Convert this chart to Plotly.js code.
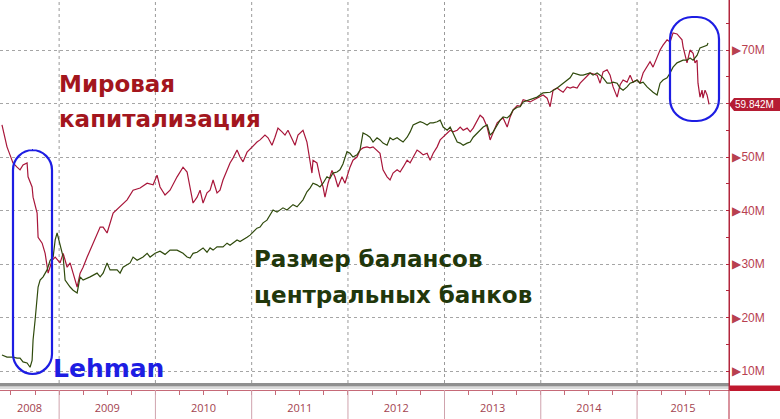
<!DOCTYPE html>
<html>
<head>
<meta charset="utf-8">
<script src="https://cdn.plot.ly/plotly-3.0.1.min.js"></script>
<style>html,body{margin:0;padding:0;background:#fff;}#chart{width:780px;height:419px;}</style>
</head>
<body>
<div id="chart"></div>
<script>
// ---- data (decimal years, values in M) ----
const redYears = [2008.408,2008.460,2008.491,2008.522,2008.564,2008.595,2008.626,2008.668,2008.678,2008.720,2008.730,2008.772,2008.782,2008.824,2008.855,2008.875,2008.886,2008.927,2008.959,2009.010,2009.042,2009.083,2009.114,2009.145,2009.187,2009.218,2009.249,2009.291,2009.322,2009.394,2009.426,2009.457,2009.498,2009.561,2009.633,2009.706,2009.768,2009.841,2009.914,2009.976,2010.017,2010.048,2010.100,2010.152,2010.225,2010.287,2010.329,2010.360,2010.391,2010.433,2010.464,2010.495,2010.536,2010.568,2010.599,2010.640,2010.671,2010.702,2010.744,2010.775,2010.806,2010.848,2010.879,2010.910,2010.952,2011.004,2011.055,2011.087,2011.138,2011.170,2011.211,2011.242,2011.273,2011.315,2011.346,2011.377,2011.419,2011.450,2011.481,2011.533,2011.574,2011.606,2011.626,2011.637,2011.678,2011.709,2011.741,2011.761,2011.793,2011.834,2011.865,2011.896,2011.938,2011.969,2011.990,2012.021,2012.052,2012.094,2012.125,2012.156,2012.197,2012.228,2012.260,2012.301,2012.332,2012.363,2012.405,2012.436,2012.467,2012.509,2012.540,2012.571,2012.613,2012.644,2012.675,2012.716,2012.748,2012.779,2012.820,2012.851,2012.883,2012.924,2012.955,2012.986,2013.028,2013.059,2013.090,2013.132,2013.163,2013.194,2013.235,2013.267,2013.298,2013.339,2013.370,2013.402,2013.443,2013.474,2013.505,2013.547,2013.578,2013.609,2013.651,2013.682,2013.713,2013.755,2013.786,2013.817,2013.889,2013.962,2014.024,2014.066,2014.097,2014.128,2014.170,2014.201,2014.232,2014.274,2014.305,2014.336,2014.377,2014.409,2014.440,2014.481,2014.512,2014.585,2014.616,2014.647,2014.689,2014.720,2014.751,2014.793,2014.824,2014.855,2014.896,2014.928,2014.959,2015.000,2015.031,2015.063,2015.104,2015.135,2015.166,2015.208,2015.239,2015.270,2015.312,2015.343,2015.374,2015.415,2015.447,2015.467,2015.478,2015.499,2015.519,2015.550,2015.582,2015.602,2015.623,2015.633,2015.654,2015.675,2015.685,2015.706,2015.727,2015.748];
const redValues = [56.0,51.9,50.4,48.9,48.1,47.6,48.5,48.9,46.3,44.4,42.5,39.5,35.0,33.9,32.0,29.4,28.3,30.7,31.3,30.2,32.0,29.4,30.2,28.3,25.7,28.3,29.4,31.3,32.6,35.8,36.9,36.9,35.8,39.5,40.7,42.0,43.8,44.2,45.1,44.8,46.6,44.4,42.9,43.8,46.3,48.1,47.2,44.4,41.4,42.5,43.8,41.4,43.3,43.8,45.7,43.3,43.8,45.7,47.6,48.9,49.8,51.3,50.0,49.1,50.9,51.9,52.8,53.2,54.1,53.6,52.2,53.7,55.4,54.7,54.1,55.0,53.2,52.2,54.1,55.0,52.8,48.9,47.0,49.4,48.9,46.3,44.4,42.5,45.1,47.5,46.3,44.4,46.3,45.1,46.3,48.1,49.4,50.0,51.3,51.7,51.9,51.7,51.9,51.3,50.7,47.6,46.3,45.7,47.0,47.6,47.2,48.1,49.4,48.9,50.0,51.3,50.9,50.4,50.7,49.4,50.7,51.9,53.2,53.7,54.5,55.0,54.7,55.0,55.6,55.0,55.4,54.7,55.4,56.9,57.8,57.3,55.6,53.2,54.5,56.4,56.9,57.3,55.6,57.5,58.8,59.6,59.5,60.7,60.3,61.0,61.6,61.0,59.4,62.5,62.9,62.5,62.1,63.1,62.9,63.1,62.9,63.8,64.4,65.0,65.7,65.3,63.8,65.9,66.3,65.3,63.1,61.2,63.5,64.4,64.0,65.3,64.0,64.4,63.8,65.7,66.8,67.8,66.8,68.7,70.0,70.9,71.9,71.5,73.2,73.0,72.4,71.9,70.6,68.7,67.6,70.0,69.4,67.6,68.1,63.8,61.2,62.5,61.0,62.5,61.6,59.842];

const greenYears = [2008.408,2008.460,2008.522,2008.564,2008.595,2008.626,2008.668,2008.699,2008.720,2008.730,2008.751,2008.772,2008.782,2008.803,2008.834,2008.875,2008.907,2008.938,2008.959,2008.979,2008.990,2009.010,2009.031,2009.042,2009.062,2009.083,2009.114,2009.145,2009.187,2009.218,2009.249,2009.322,2009.394,2009.426,2009.457,2009.498,2009.529,2009.602,2009.633,2009.664,2009.737,2009.768,2009.810,2009.872,2009.914,2009.945,2009.997,2010.048,2010.100,2010.152,2010.225,2010.287,2010.329,2010.360,2010.391,2010.433,2010.464,2010.495,2010.536,2010.568,2010.599,2010.640,2010.702,2010.744,2010.775,2010.806,2010.848,2010.879,2010.910,2010.952,2010.983,2011.014,2011.055,2011.087,2011.118,2011.159,2011.190,2011.222,2011.263,2011.294,2011.325,2011.367,2011.398,2011.429,2011.471,2011.502,2011.533,2011.574,2011.606,2011.637,2011.678,2011.709,2011.741,2011.782,2011.813,2011.844,2011.886,2011.917,2011.948,2011.990,2012.021,2012.052,2012.094,2012.125,2012.156,2012.197,2012.228,2012.260,2012.301,2012.332,2012.363,2012.405,2012.436,2012.467,2012.509,2012.540,2012.571,2012.613,2012.644,2012.675,2012.716,2012.748,2012.779,2012.820,2012.851,2012.883,2012.924,2012.955,2012.986,2013.028,2013.059,2013.090,2013.132,2013.163,2013.194,2013.235,2013.267,2013.298,2013.339,2013.370,2013.402,2013.443,2013.474,2013.505,2013.547,2013.578,2013.609,2013.651,2013.682,2013.713,2013.755,2013.786,2013.817,2013.889,2013.962,2014.024,2014.097,2014.170,2014.232,2014.305,2014.336,2014.409,2014.440,2014.512,2014.543,2014.585,2014.616,2014.647,2014.689,2014.720,2014.751,2014.793,2014.824,2014.855,2014.896,2014.928,2014.959,2015.000,2015.031,2015.063,2015.104,2015.135,2015.166,2015.208,2015.239,2015.270,2015.312,2015.343,2015.374,2015.415,2015.447,2015.478,2015.519,2015.550,2015.582,2015.623,2015.654,2015.685,2015.727,2015.737];
const greenValues = [13.0,12.6,12.6,12.4,12.4,11.7,11.5,10.7,12.0,15.8,19.5,23.3,25.7,27.0,27.6,28.9,30.7,31.3,34.5,35.8,35.0,33.2,32.0,31.3,27.0,26.4,25.7,25.1,24.6,27.6,27.0,27.6,28.3,27.6,28.3,30.2,28.9,28.9,28.3,29.4,30.2,31.3,30.7,31.3,32.0,31.3,32.0,32.4,31.8,32.6,32.6,32.0,31.3,31.1,32.0,32.2,32.6,33.0,32.2,33.0,32.6,33.2,33.2,33.9,33.5,33.9,34.5,34.2,34.5,35.0,35.4,36.0,36.7,36.9,37.7,38.2,39.2,40.1,39.7,40.1,40.5,40.1,40.7,41.1,40.7,41.4,42.0,43.5,44.2,45.1,44.8,44.4,45.1,46.3,46.0,47.0,47.2,47.6,48.7,51.0,50.7,50.0,50.4,51.3,54.5,54.1,53.7,52.8,53.6,53.2,52.6,52.2,53.6,53.2,53.6,53.2,52.8,53.7,54.7,56.0,56.4,56.6,56.4,56.0,56.4,56.4,56.6,56.9,55.6,55.0,55.6,54.5,52.8,52.6,52.2,52.6,52.8,53.7,54.5,55.0,55.6,56.0,54.1,54.7,56.0,56.9,57.5,57.3,57.8,58.8,59.3,59.4,60.3,60.7,61.2,62.0,62.1,62.9,63.8,64.8,65.7,65.3,65.3,65.7,65.3,65.7,65.3,64.8,63.8,63.8,64.0,63.8,62.9,62.5,63.1,63.8,64.0,64.4,63.8,64.0,63.1,62.5,62.1,61.6,63.8,64.4,64.8,65.7,66.8,67.6,67.8,68.1,68.1,68.5,68.1,69.0,70.4,70.6,70.9,71.3];

const yearLabels = ['2008','2009','2010','2011','2012','2013','2014','2015'];
const yearBoundaries = [2009,2010,2011,2012,2013,2014,2015];
const yTickValues = [10,20,30,40,50,60,70];
const lastRedValue = 59.842;
const redLabelLines = ['Мировая','капитализация'];
const greenLabelLines = ['Размер балансов','центральных банков'];
const eventLabel = 'Lehman';

function yearToDate(y){
  const yr = Math.floor(y);
  const s = Date.UTC(yr,0,1), e = Date.UTC(yr+1,0,1);
  return new Date(s + (y-yr)*(e-s)).toISOString().slice(0,19).replace('T',' ');
}

const xStart = 2008.3875, xEnd = 2015.955;
const W = 729, H = 390;           // plot area in px
const px = v => v / W;            // pixel -> paper x
const py = v => 1 - v / H;        // pixel -> paper y

const redColor = '#a8163a';
const greenColor = '#2f4a0c';
const axisRed = '#b3273d';
const blue = '#1d1de3';

const traces = [
  {x: redYears.map(yearToDate), y: redValues, type:'scatter', mode:'lines',
   line:{color:redColor, width:1.2}, hoverinfo:'skip'},
  {x: greenYears.map(yearToDate), y: greenValues, type:'scatter', mode:'lines',
   line:{color:greenColor, width:1.2}, hoverinfo:'skip'}
];

const labelYears = yearLabels.map(l=>{
  const y = +l;
  const a = Math.max(y, xStart), b = Math.min(y+1, xEnd);
  return yearToDate((a+b)/2);
});

const quarterTicks = [];
for (let y = 2008; y <= 2015; y++) for (let q = 0; q < 4; q++) {
  const v = y + q*0.25;
  if (v > xStart && v < xEnd) quarterTicks.push(yearToDate(v));
}

// the tick hidden behind the last-value box
const shownTicks = yTickValues.filter(v => Math.abs(v - lastRedValue) > 2);
const hiddenTick = yTickValues.find(v => !shownTicks.includes(v));

function pill(x0,y0,x1,y1,r){
  const X0=px(x0),X1=px(x1),Y0=py(y0),Y1=py(y1);
  const rx=r/W, ry=r/H, k=0.55;
  return `M ${X0+rx},${Y0} L ${X1-rx},${Y0} C ${X1-rx+rx*k},${Y0} ${X1},${Y0-ry+ry*k} ${X1},${Y0-ry} `+
         `L ${X1},${Y1+ry} C ${X1},${Y1+ry-ry*k} ${X1-rx+rx*k},${Y1} ${X1-rx},${Y1} `+
         `L ${X0+rx},${Y1} C ${X0+rx-rx*k},${Y1} ${X0},${Y1+ry-ry*k} ${X0},${Y1+ry} `+
         `L ${X0},${Y0-ry} C ${X0},${Y0-ry+ry*k} ${X0+rx-rx*k},${Y0} ${X0+rx},${Y0} Z`;
}

const shapes = [];
yearBoundaries.forEach(y=>{
  const d = yearToDate(y);
  shapes.push({type:'line', xref:'x', yref:'paper', x0:d, x1:d, y0:py(383), y1:1,
    line:{color:'#9a9a9a', width:1, dash:'dot'}, layer:'below'});
  shapes.push({type:'line', xref:'x', yref:'paper', x0:d, x1:d, y0:py(390), y1:py(419),
    line:{color:'#cfa3ad', width:1}});
});
shapes.push({type:'line', xref:'paper', yref:'y', x0:0, x1:1, y0:hiddenTick, y1:hiddenTick,
  line:{color:'#a5a5a5', width:1, dash:'dot'}, layer:'below'});
shapes.push({type:'rect', xref:'paper', yref:'paper', x0:0, x1:1, y0:py(386.5), y1:py(383),
  fillcolor:'#8f8f8f', line:{width:0}});
shapes.push({type:'line', xref:'paper', yref:'paper', x0:0, x1:1, y0:py(388), y1:py(388),
  line:{color:'#b5b5b5', width:1}});
shapes.push({type:'line', xref:'paper', yref:'paper', x0:1, x1:1, y0:py(419), y1:1,
  line:{color:axisRed, width:1}});
const vy0 = 98, vy1 = 111, vm = (vy0+vy1)/2;
shapes.push({type:'path', xref:'paper', yref:'paper',
  path:`M ${px(729)},${py(vm)} L ${px(734)},${py(vy0)} L ${px(780)},${py(vy0)} L ${px(780)},${py(vy1)} L ${px(734)},${py(vy1)} Z`,
  fillcolor:'#b51c33', line:{width:0}});
shapes.push({type:'rect', xref:'paper', yref:'paper', x0:px(730), x1:px(780), y0:py(391), y1:py(385.5),
  fillcolor:'#c0182e', line:{width:0}});
shapes.push({type:'path', xref:'paper', yref:'paper', path:pill(13,150,52,374,20),
  line:{color:blue, width:2.2}});
shapes.push({type:'path', xref:'paper', yref:'paper', path:pill(670,17,719,121,22),
  line:{color:blue, width:2.2}});

const bigFont = 'DejaVu Sans, Verdana, sans-serif';
function label(txt, x, y, size, color){
  return {xref:'paper', yref:'paper', x:px(x), y:py(y), xanchor:'left', yanchor:'middle', showarrow:false,
    text:'<b>'+txt+'</b>', font:{family:bigFont, size:size, color:color}};
}
const annotations = [
  label(redLabelLines[0], 57, 84, 23, '#a3161d'),
  label(redLabelLines[1], 57, 119, 23, '#a3161d'),
  label(greenLabelLines[0], 252, 259, 23, '#21370b'),
  label(greenLabelLines[1], 252, 295, 23, '#21370b'),
  label(eventLabel, 51, 368, 25, blue),
  {xref:'paper', yref:'y', x:px(733), y:lastRedValue, xanchor:'left', yanchor:'middle', showarrow:false,
   text:lastRedValue.toFixed(3)+'M', font:{family:'Liberation Sans, Arial', size:10, color:'#ffffff'}}
];

const layout = {
  width:780, height:419,
  margin:{l:0, r:51, t:0, b:29},
  paper_bgcolor:'#ffffff', plot_bgcolor:'#ffffff',
  showlegend:false, hovermode:false,
  xaxis:{type:'date', range:[yearToDate(xStart), yearToDate(xEnd)],
    tickvals:labelYears, ticktext:yearLabels, ticks:'', showgrid:false, zeroline:false,
    showline:true, linecolor:'#c66a78', linewidth:1, ticklabelstandoff:8,
    tickfont:{family:'Open Sans, Liberation Sans', size:11, color:'#a3434f'}},
  xaxis2:{type:'date', overlaying:'x', matches:'x', side:'bottom', anchor:'y',
    tickvals:quarterTicks, ticks:'outside', ticklen:4, tickcolor:'#c66a78', tickwidth:1,
    showticklabels:false, showgrid:false, zeroline:false, showline:false},
  yaxis:{side:'right', range:[6.45, 79.35], tickvals:shownTicks,
    ticktext:shownTicks.map(v=>'▶'+v+'M'), ticks:'', showline:true, linecolor:axisRed, linewidth:1,
    showgrid:true, gridcolor:'#a5a5a5', griddash:'dot', gridwidth:1, zeroline:false,
    minor:{ticks:'inside', ticklen:3, dtick:5, tick0:0, tickcolor:axisRed, showgrid:false},
    tickfont:{family:'Liberation Sans, Arial', size:12, color:'#b8404f'}, ticklabelstandoff:0},
  shapes:shapes, annotations:annotations
};

traces.push({x:[], y:[], xaxis:'x2', type:'scatter'});
Plotly.newPlot('chart', traces, layout, {staticPlot:true, displayModeBar:false});
</script>
</body>
</html>
